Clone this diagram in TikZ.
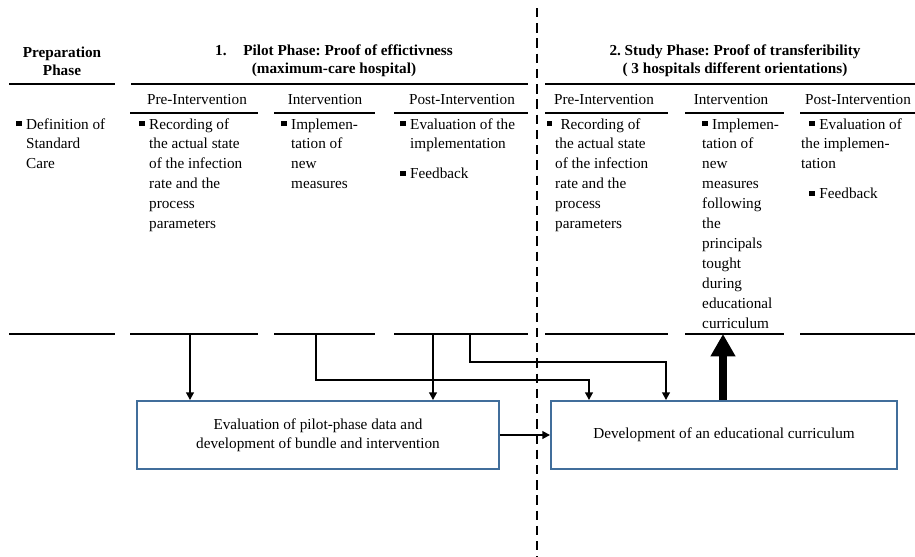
\documentclass[tikz,border=0pt]{standalone}
\usepackage{fontspec}
\setmainfont{Liberation Serif}
\usetikzlibrary{arrows.meta}
\definecolor{boxblue}{RGB}{65,110,155}
\frenchspacing
\newcommand{\bul}{\rule[2.5pt]{4.5pt}{4.5pt}\kern4pt}
\newcommand{\hlist}[1]{\begin{tabular}[t]{@{}l@{}l@{}}#1\end{tabular}}
\newcommand{\plist}[1]{\begin{tabular}[t]{@{}l@{}}#1\end{tabular}}
\begin{document}
\begin{tikzpicture}[x=0.03cm,y=-0.03cm,
txt/.style={font=\fontsize{13}{17}\selectfont,inner sep=0pt},
head/.style={font=\fontsize{13}{15.4}\selectfont\bfseries,align=center,inner sep=0pt},
sub/.style={txt,anchor=base},
item/.style={txt,anchor=base west},
rule/.style={line width=1.8pt},
main box/.style={draw=boxblue,line width=1.6pt,align=center,font=\fontsize{13}{16.2}\selectfont},
arr/.style={line width=1.5pt,-{Triangle[length=6.5pt,width=6.5pt]}},
big arr/.style={line width=6pt,-{Triangle[length=19pt,width=20pt]}}]
\useasboundingbox (0,0) rectangle (915,557);

% separation pilot / study
\draw[line width=1.5pt,dash pattern=on 8pt off 5pt] (537,8) -- (537,557);

% headings
\node[head] (prep) at (62,61) {Preparation\\Phase};
\node[head] (pilot) at (334,61) {1.\hspace{1.1em}Pilot Phase: Proof of effictivness\\(maximum-care hospital)};
\node[head] (study) at (735,61) {2. Study Phase: Proof of transferibility\\( 3 hospitals different orientations)};

\foreach \a/\b in {9/115,131/528,545/915}
  \draw[rule] (\a,84) -- (\b,84);
\foreach \a/\b in {130/258,274/375,394/528,545/668,685/784,800/915}
  \draw[rule] (\a,113) -- (\b,113);
\foreach \a/\b in {9/115,130/258,274/375,394/528,545/668,685/784,800/915}
  \draw[rule] (\a,334) -- (\b,334);

\node[sub] (pre1) at (197,104) {Pre-Intervention};
\node[sub] (int1) at (325,104) {Intervention};
\node[sub] (post1) at (462,104) {Post-Intervention};
\node[sub] (pre2) at (604,104) {Pre-Intervention};
\node[sub] (int2) at (731,104) {Intervention};
\node[sub] (post2) at (858,104) {Post-Intervention};

% column contents
\node[item] (def) at (16,129) {\hlist{\bul & Definition of\\ & Standard\\ & Care}};
\node[item] (rec1) at (139,129) {\hlist{\bul & Recording of\\ & the actual state\\ & of the infection\\ & rate and the\\ & process\\ & parameters}};
\node[item] (imp1) at (281,129) {\hlist{\bul & Implemen-\\ & tation of\\ & new\\ & measures}};
\node[item] (ev1) at (400,129) {\hlist{\bul & Evaluation of the\\ & implementation\\[8.5pt] \bul & Feedback}};
\node[item] (rec2) at (555,129) {\plist{\kern-7pt\bul\kern3pt Recording of\\ the actual state\\ of the infection\\ rate and the\\ process\\ parameters}};
\node[item] (imp2) at (702,129) {\plist{\bul Implemen-\\ tation of\\ new\\ measures\\ following\\ the\\ principals\\ tought\\ during\\ educational\\ curriculum}};
\node[item] (ev2) at (801,129) {\plist{\kern7pt\bul Evaluation of\\ the implemen-\\ tation\\[8.5pt] \kern7pt\bul Feedback}};

% boxes
\node[main box,minimum width=10.86cm,minimum height=2.04cm] (eval) at (318,435) {Evaluation of pilot-phase data and\\development of bundle and intervention};
\node[main box,minimum width=10.38cm,minimum height=2.04cm] (curr) at (724,435) {Development of an educational curriculum};

\coordinate (s1) at (190,334);
\coordinate (s2) at (316,334);
\coordinate (s3) at (433,334);
\coordinate (s4) at (470,334);
\coordinate (t2) at (589,380);
\coordinate (t4) at (666,362);
\coordinate (up) at (723,334);

\draw[arr] (s1) -- (s1 |- eval.north);
\draw[arr] (s3) -- (s3 |- eval.north);
\draw[arr] (s2) |- (t2) -- (t2 |- curr.north);
\draw[arr] (s4) |- (t4) -- (t4 |- curr.north);
\draw[arr] (eval.east) -- (curr.west);
\draw[big arr] (up |- curr.north) -- (up);

\end{tikzpicture}
\end{document}
